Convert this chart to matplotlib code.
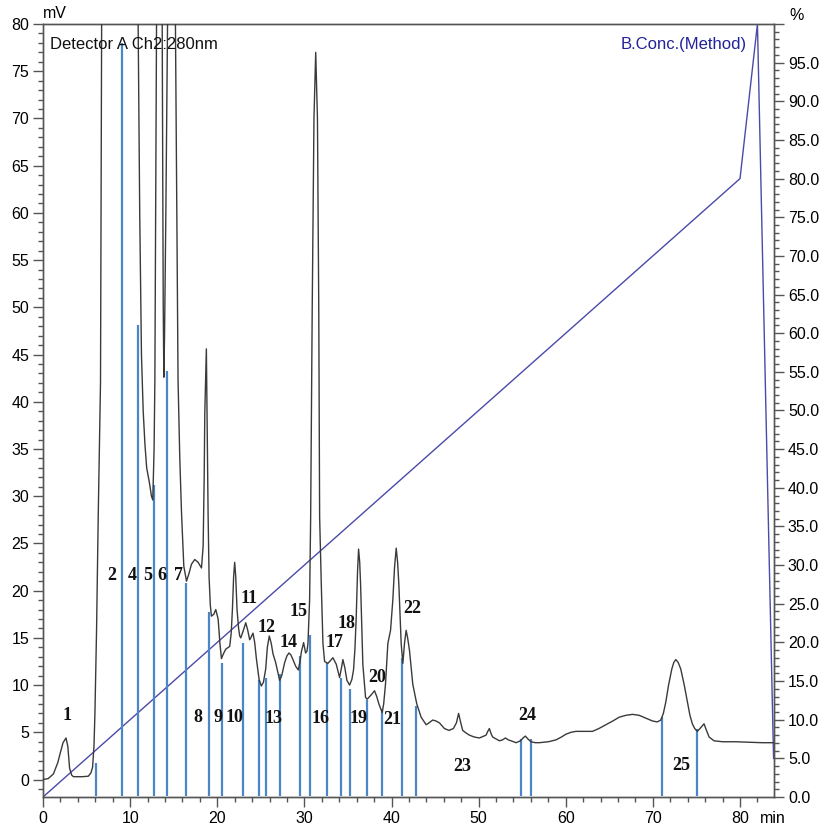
import matplotlib
matplotlib.use("Agg")
import matplotlib.pyplot as plt
from matplotlib.ticker import MultipleLocator, FixedLocator

# ---- data ----
time_min = [0.0, 0.6, 1.2, 1.7, 1.95, 2.3, 2.64, 2.85, 3.05, 3.3, 3.5, 4.5, 5.2, 5.5, 5.69, 5.85, 5.96,
            6.15, 6.34, 6.5, 6.6, 6.73, 7.2, 8.5, 10.0, 10.92, 11.1, 11.3, 11.5, 11.7, 11.9, 12.2, 12.45,
            12.6, 12.75, 12.84, 13.03, 13.35, 13.68, 13.8, 13.87, 13.95, 14.1, 14.29, 14.75, 15.2, 15.5,
            15.7, 15.9, 16.16, 16.47, 16.75, 17.04, 17.42, 17.8, 18.19, 18.38, 18.5, 18.57, 18.75, 18.87,
            18.95, 19.06, 19.2, 19.33, 19.6, 19.83, 20.1, 20.3, 20.48, 20.7, 20.97, 21.43, 21.6, 21.74,
            21.88, 22.0, 22.12, 22.27, 22.45, 22.58, 22.7, 23.0, 23.27, 23.5, 23.72, 23.9, 24.1, 24.3,
            24.49, 24.8, 25.06, 25.3, 25.56, 25.75, 25.97, 26.2, 26.4, 26.7, 26.97, 27.16, 27.4, 27.74,
            28.0, 28.23, 28.45, 28.69, 29.0, 29.3, 29.5, 29.65, 29.91, 30.14, 30.3, 30.41, 30.6, 30.72,
            30.9, 31.1, 31.3, 31.5, 31.65, 31.75, 31.94, 32.13, 32.32, 32.7, 33.0, 33.27, 33.66, 34.04,
            34.25, 34.42, 34.65, 34.88, 35.19, 35.45, 35.64, 35.8, 35.95, 36.1, 36.22, 36.35, 36.45,
            36.71, 37.02, 37.2, 37.4, 37.7, 38.05, 38.3, 38.55, 38.93, 39.1, 39.31, 39.58, 39.89, 40.15,
            40.35, 40.54, 40.7, 40.84, 41.11, 41.3, 41.5, 41.68, 41.85, 42.06, 42.44, 42.9, 43.4, 43.98,
            44.3, 44.73, 45.1, 45.5, 46.07, 46.6, 47.1, 47.45, 47.7, 47.95, 48.17, 48.6, 48.94, 49.5,
            50.09, 50.85, 51.05, 51.23, 51.45, 51.61, 52.0, 52.38, 52.75, 53.07, 53.4, 53.72, 54.3,
            54.8, 55.1, 55.36, 55.65, 56.01, 56.5, 56.96, 58.0, 58.88, 59.5, 60.02, 60.6, 61.17, 62.0,
            63.07, 63.8, 64.6, 65.4, 66.13, 66.9, 67.66, 68.42, 69.2, 69.95, 70.5, 70.91, 71.2, 71.48,
            71.8, 72.17, 72.4, 72.63, 72.9, 73.2, 73.6, 73.96, 74.25, 74.53, 74.8, 75.1, 75.5, 75.87,
            76.15, 76.45, 77.02, 78.0, 79.5, 81.0, 82.5, 83.9]
signal_mv = [0.0, 0.1, 0.6, 1.8, 2.7, 3.9, 4.4, 3.5, 1.2, 0.45, 0.3, 0.3, 0.35, 0.7, 1.3, 3.5, 7.0,
             16.0, 28.0, 37.0, 42.0, 80.0, 130.0, 180.0, 130.0, 80.0, 60.0, 45.0, 39.0, 35.5, 33.0, 31.5, 30.0,
             29.6, 35.0, 42.3, 80.0, 110.0, 80.0, 50.0, 42.6, 47.0, 60.0, 80.0, 120.0, 80.0, 42.3,
             34.0, 28.2, 22.6, 21.0, 21.8, 22.8, 23.3, 23.0, 22.4, 24.7, 32.0, 38.8, 45.6, 35.6,
             28.0, 21.5, 18.5, 17.3, 17.5, 18.0, 17.0, 14.5, 12.8, 13.3, 13.8, 14.1, 15.5, 18.0,
             21.5, 23.0, 21.5, 18.0, 16.0, 15.2, 15.0, 15.8, 16.6, 15.8, 14.8, 15.1, 15.5, 14.5,
             12.8, 10.6, 9.9, 10.3, 11.7, 14.0, 15.2, 14.4, 13.3, 12.4, 11.3, 10.5, 11.0, 12.4,
             13.1, 13.4, 13.2, 12.7, 12.0, 11.6, 12.5, 13.5, 14.5, 13.4, 13.6, 14.4, 19.0, 27.8,
             50.0, 70.0, 77.0, 70.0, 50.0, 27.8, 20.7, 14.4, 12.5, 12.3, 12.6, 12.9, 12.2, 10.8,
             11.8, 12.7, 11.8, 10.5, 10.0, 10.6, 11.6, 13.8, 17.2, 22.0, 24.4, 23.0, 20.7,
             12.2, 8.7, 8.5, 8.7, 9.0, 9.4, 8.8, 8.0, 7.1, 8.0, 10.1, 14.4, 15.8, 19.0,
             22.5, 24.5, 23.0, 20.7, 14.4, 12.3, 14.5, 15.8, 15.0, 13.7, 10.1, 8.0, 6.6, 5.8,
             6.0, 6.3, 6.2, 6.0, 5.4, 5.2, 5.4, 6.0, 7.0, 6.0, 5.2, 4.9, 4.7, 4.5,
             4.4, 4.7, 5.1, 5.4, 4.8, 4.5, 4.3, 4.1, 4.2, 4.4, 4.2, 4.1, 3.9,
             4.1, 4.4, 4.6, 4.3, 4.0, 3.9, 3.9, 4.0, 4.2, 4.5, 4.8, 5.0, 5.1, 5.1,
             5.1, 5.4, 5.8, 6.2, 6.6, 6.8, 6.9, 6.8, 6.5, 6.2, 6.1, 6.3, 7.0, 8.2,
             10.0, 11.7, 12.4, 12.7, 12.4, 11.7, 10.0, 8.2, 6.8, 5.9, 5.4, 5.1, 5.5, 5.9,
             5.2, 4.5, 4.1, 4.0, 4.0, 3.95, 3.9, 3.9]

gradient_time = [0.0, 80.0, 82.0, 83.85]
gradient_pct = [0.0, 80.0, 100.0, 5.0]

marker_times = [6.07, 9.1, 10.9, 12.7, 14.2, 16.4, 19.0, 20.5, 23.0, 24.75, 25.55, 27.2, 29.5, 30.6,
                32.6, 34.2, 35.2, 37.2, 38.95, 41.15, 42.85, 54.85, 56.05, 71.1, 75.1]
marker_tops = [1.8, 78.0, 48.1, 31.2, 43.3, 20.8, 17.7, 12.3, 14.5, 10.5, 10.7, 11.2, 13.1, 15.3,
               12.3, 10.8, 9.6, 8.4, 7.5, 12.9, 7.8, 4.3, 4.3, 6.6, 5.4]

peak_labels = ["1", "2", "4", "5", "6", "7", "8", "9", "10", "11", "12", "13", "14", "15", "16",
               "17", "18", "19", "20", "21", "22", "23", "24", "25"]
label_t = [2.75, 7.9, 10.2, 12.0, 13.6, 15.5, 17.8, 20.05, 22.0, 23.7, 25.6, 26.4, 28.2, 29.3, 31.9,
           33.5, 34.8, 36.2, 38.3, 40.1, 42.4, 48.1, 55.6, 73.2]
label_v = [6.8, 21.6, 21.6, 21.6, 21.6, 21.6, 6.6, 6.6, 6.6, 19.2, 16.1, 6.5, 14.5, 17.8, 6.5,
           14.5, 16.5, 6.5, 10.8, 6.4, 18.1, 1.4, 6.8, 1.5]

left_ticks = list(range(0, 81, 5))
right_ticks = list(range(0, 101, 5))
x_ticks = list(range(0, 81, 10))

# ---- figure ----
W, H = 824, 830
fig = plt.figure(figsize=(W / 100, H / 100), dpi=100)
ax = fig.add_axes([43 / W, 1 - 797 / H, (774 - 43) / W, (797 - 24) / H])
ax2 = ax.twinx()

sans = ["Liberation Sans", "DejaVu Sans"]
serif = ["Liberation Serif", "DejaVu Serif"]
axis_col = "#555555"

ax.set_xlim(0, 83.9)
ax.set_ylim(-1.85, 80)
ax2.set_ylim(0, 100)

# gradient on the right axis
ax2.plot(gradient_time, gradient_pct, color="#4a4aa8", lw=1.0, zorder=1)

# peak marker lines
for t, top in zip(marker_times, marker_tops):
    ax.plot([t, t], [-1.7, top], color="#4a86c8", lw=1.6, solid_capstyle="butt", zorder=2)

# chromatogram
ax.plot(time_min, signal_mv, color="#3a3a3a", lw=1.0, zorder=3, solid_joinstyle="round")
ax.set_zorder(ax2.get_zorder() + 1)
ax.patch.set_visible(False)

for lab, t, v in zip(peak_labels, label_t, label_v):
    ax.text(t, v, lab, ha="center", va="center", fontsize=13, fontweight="bold",
            family=serif, color="#111111", zorder=4)

# ticks / spines
for a in (ax, ax2):
    for s in a.spines.values():
        s.set_color(axis_col)
        s.set_linewidth(1.0)

ax.yaxis.set_major_locator(FixedLocator(left_ticks))
ax.yaxis.set_minor_locator(MultipleLocator(1))
ax.set_yticklabels([str(v) for v in left_ticks])
ax.xaxis.set_major_locator(FixedLocator(x_ticks))
ax.xaxis.set_minor_locator(MultipleLocator(2))
ax.set_xticklabels([str(v) for v in x_ticks])
ax.tick_params(axis="both", which="major", direction="out", length=7, width=1, color=axis_col,
               labelsize=11.5, pad=3)
ax.tick_params(axis="both", which="minor", direction="out", length=3.5, width=1, color=axis_col)

ax2.yaxis.set_major_locator(FixedLocator(right_ticks))
ax2.yaxis.set_minor_locator(MultipleLocator(1))
ax2.set_yticklabels([f"{v:.1f}" if v < 100 else "" for v in right_ticks])
ax2.tick_params(axis="y", which="major", direction="out", length=7, width=1, color=axis_col,
                labelsize=11.5, pad=3)
ax2.tick_params(axis="y", which="minor", direction="out", length=3.5, width=1, color=axis_col)

for lbl in ax.get_xticklabels() + ax.get_yticklabels() + ax2.get_yticklabels():
    lbl.set_family(sans)

# texts
fig.text(55 / W, 1 - 13 / H, "mV", ha="center", va="center", fontsize=11.5, family=sans)
fig.text(797 / W, 1 - 16 / H, "%", ha="center", va="center", fontsize=11.5, family=sans)
fig.text(760 / W, 1 - 818 / H, "min", ha="left", va="center", fontsize=11.5, family=sans)
ax.text(0.009, 0.983, "Detector A Ch2:280nm", transform=ax.transAxes, ha="left",
        va="top", fontsize=12, family=sans, color="#111111")
ax.text(0.963, 0.983, "B.Conc.(Method)", transform=ax.transAxes, ha="right", va="top",
        fontsize=12, family=sans, color="#22229a")

fig.savefig("out.png", dpi=100)
